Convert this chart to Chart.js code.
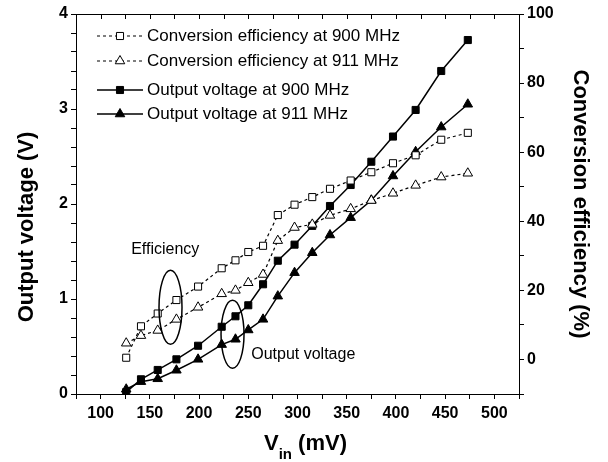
<!DOCTYPE html>
<html>
<head>
<meta charset="utf-8">
<script src="https://cdn.jsdelivr.net/npm/chart.js@4"></script>
<style>
  html, body { margin: 0; padding: 0; background: #fff; }
  #wrap { width: 608px; height: 462px; }
</style>
</head>
<body>
<div id="wrap"><canvas id="rectennaChart" width="608" height="462"></canvas></div>
<script>
// input voltage (mV)
const vin = [126, 141, 158, 177, 199, 223, 237, 250, 265, 280, 297, 315, 333, 354, 375, 397, 420, 446, 473];
// conversion efficiency (%)
const effAt900 = [0.5, 9.6, 13.3, 17.2, 21.1, 26.4, 28.7, 31.1, 32.9, 41.8, 44.8, 47.0, 49.4, 51.8, 54.2, 56.8, 59.1, 63.6, 65.6];
const effAt911 = [4.7, 6.9, 8.4, 11.6, 15.1, 19.0, 20.0, 22.2, 24.6, 34.4, 38.2, 39.1, 41.7, 43.6, 46.0, 48.1, 50.4, 52.8, 53.9];
// output voltage (V)
const voutAt900 = [0.02, 0.155, 0.253, 0.365, 0.508, 0.708, 0.818, 0.934, 1.155, 1.403, 1.572, 1.77, 1.979, 2.2, 2.445, 2.71, 2.99, 3.40, 3.726];
const voutAt911 = [0.05, 0.13, 0.16, 0.25, 0.365, 0.52, 0.576, 0.674, 0.786, 1.03, 1.277, 1.487, 1.674, 1.856, 2.04, 2.295, 2.55, 2.81, 3.05];

const seriesNames = ['Conversion efficiency at 900 MHz', 'Conversion efficiency at 911 MHz',
                     'Output voltage at 900 MHz', 'Output voltage at 911 MHz'];
const xTickLabels = [100, 150, 200, 250, 300, 350, 400, 450, 500];
const yTickLabels = [0, 1, 2, 3, 4];
const y1TickLabels = [0, 20, 40, 60, 80, 100];

const FONT = '"Liberation Sans", Arial, sans-serif';

function pts(xs, ys){
    return xs.map((x, i) => ({x: x, y: ys[i]}));
}

function everyStep(scale, from, to, step){
    const t = [];
    for (let v = from; v <= to + 1e-9; v += step) t.push({value: Math.round(v * 100) / 100});
    scale.ticks = t;
}

// legend rows + ellipses + text annotations + top axis + axis titles
const extras = {
    id: 'extras',
    afterDraw(chart){
        const ctx = chart.ctx;
        const x = chart.scales.x, y = chart.scales.y;
        const area = chart.chartArea;
        ctx.save();
        // top axis line with inward ticks
        ctx.strokeStyle = '#000';
        ctx.lineWidth = 1;
        ctx.beginPath();
        ctx.moveTo(area.left, area.top + 0.5);
        ctx.lineTo(area.right, area.top + 0.5);
        for (let v = 100; v <= 500; v += 25){
            const px = Math.round(x.getPixelForValue(v)) + 0.5;
            ctx.moveTo(px, area.top);
            ctx.lineTo(px, area.top + 5);
        }
        ctx.stroke();

        // legend
        const rows = [36, 61, 90, 114];
        chart.data.datasets.forEach((ds, i) => {
            const ry = rows[i];
            ctx.beginPath();
            ctx.setLineDash(ds.borderDash || []);
            ctx.lineWidth = ds.borderWidth;
            ctx.strokeStyle = '#000';
            ctx.moveTo(97, ry);
            ctx.lineTo(143, ry);
            ctx.stroke();
            ctx.setLineDash([]);
            ctx.lineWidth = 1;
            ctx.fillStyle = ds.pointBackgroundColor;
            ctx.beginPath();
            const r = ds.pointRadius;
            if (ds.pointStyle === 'rect'){
                const s = Math.SQRT1_2 * r;
                ctx.rect(120 - s, ry - s, 2 * s, 2 * s);
            } else {
                ctx.moveTo(120, ry - r);
                ctx.lineTo(120 + r * Math.cos(Math.PI / 6), ry + r / 2);
                ctx.lineTo(120 - r * Math.cos(Math.PI / 6), ry + r / 2);
                ctx.closePath();
            }
            ctx.fill();
            ctx.stroke();
            ctx.fillStyle = '#000';
            ctx.font = '17px ' + FONT;
            ctx.textBaseline = 'middle';
            ctx.textAlign = 'left';
            ctx.fillText(seriesNames[i], 147, ry);
        });

        // ellipses
        ctx.lineWidth = 1.5;
        ctx.beginPath();
        ctx.ellipse(x.getPixelForValue(171), y.getPixelForValue(0.913), 11.5, 37, 0, 0, Math.PI * 2);
        ctx.stroke();
        ctx.beginPath();
        ctx.ellipse(x.getPixelForValue(234), y.getPixelForValue(0.628), 11.5, 34, 0, 0, Math.PI * 2);
        ctx.stroke();

        ctx.font = '16px ' + FONT;
        ctx.textBaseline = 'middle';
        ctx.fillText('Efficiency', x.getPixelForValue(131), y.getPixelForValue(1.516));
        ctx.fillText('Output voltage', x.getPixelForValue(253), y.getPixelForValue(0.41));

        // left axis title, a bit below the middle like the original
        ctx.save();
        ctx.translate(27, 227);
        ctx.rotate(-Math.PI / 2);
        ctx.font = 'bold 22px ' + FONT;
        ctx.textAlign = 'center';
        ctx.textBaseline = 'middle';
        ctx.fillText('Output voltage (V)', 0, 0);
        ctx.restore();

        // x title with subscript
        ctx.textAlign = 'left';
        ctx.textBaseline = 'alphabetic';
        const cx = (area.left + area.right) / 2 + 8;
        ctx.font = 'bold 22px ' + FONT;
        const w1 = ctx.measureText('V').width;
        const w3 = ctx.measureText(' (mV)').width;
        ctx.font = 'bold 15px ' + FONT;
        const w2 = ctx.measureText('in').width;
        let sx = cx - (w1 + w2 + w3) / 2;
        ctx.font = 'bold 22px ' + FONT;
        ctx.fillText('V', sx, 450);
        ctx.fillText(' (mV)', sx + w1 + w2, 450);
        ctx.font = 'bold 15px ' + FONT;
        ctx.fillText('in', sx + w1, 459);
        ctx.restore();
    }
};

const ctx = document.getElementById('rectennaChart').getContext('2d');
new Chart(ctx, {
    type: 'line',
    data: {
        datasets: [{
            label: seriesNames[0],
            data: pts(vin, effAt900),
            yAxisID: 'y1',
            borderColor: '#000', borderWidth: 1.2, borderDash: [3, 3],
            pointStyle: 'rect', pointRadius: 5, pointBorderWidth: 1,
            pointBackgroundColor: '#fff', pointBorderColor: '#000'
        }, {
            label: seriesNames[1],
            data: pts(vin, effAt911),
            yAxisID: 'y1',
            borderColor: '#000', borderWidth: 1.2, borderDash: [3, 3],
            pointStyle: 'triangle', pointRadius: 5.5, pointBorderWidth: 1,
            pointBackgroundColor: '#fff', pointBorderColor: '#000'
        }, {
            label: seriesNames[2],
            data: pts(vin, voutAt900),
            yAxisID: 'y',
            borderColor: '#000', borderWidth: 1.5,
            pointStyle: 'rect', pointRadius: 5, pointBorderWidth: 1,
            pointBackgroundColor: '#000', pointBorderColor: '#000'
        }, {
            label: seriesNames[3],
            data: pts(vin, voutAt911),
            yAxisID: 'y',
            borderColor: '#000', borderWidth: 1.5,
            pointStyle: 'triangle', pointRadius: 5.5, pointBorderWidth: 1,
            pointBackgroundColor: '#000', pointBorderColor: '#000'
        }]
    },
    options: {
        responsive: false,
        animation: false,
        layout: { padding: { top: 14, left: 0, right: 0, bottom: 0 } },
        plugins: { legend: { display: false }, tooltip: { enabled: false } },
        scales: {
            x: {
                type: 'linear', min: 75, max: 525,
                afterBuildTicks: s => everyStep(s, 75, 525, 25),
                afterFit: s => { s.height = 68; },
                grid: { drawOnChartArea: false, tickLength: 5, color: '#000' },
                border: { color: '#000', width: 1 },
                ticks: {
                    color: '#000', padding: 5, maxRotation: 0, autoSkip: false,
                    font: { family: FONT, size: 16, weight: 'bold' },
                    callback: v => xTickLabels.includes(v) ? String(v) : ''
                },
                title: { display: false }
            },
            y: {
                position: 'left', min: 0, max: 4,
                afterBuildTicks: s => everyStep(s, 0, 4, 0.2),
                afterFit: s => { s.width = 76; },
                grid: { drawOnChartArea: false, tickLength: 5, color: '#000' },
                border: { color: '#000', width: 1 },
                ticks: {
                    color: '#000', padding: 3, autoSkip: false,
                    font: { family: FONT, size: 16, weight: 'bold' },
                    callback: v => yTickLabels.includes(v) ? String(v) : ''
                },
                title: { display: false }
            },
            y1: {
                position: 'right', min: -10, max: 100,
                afterBuildTicks: s => everyStep(s, -10, 100, 10),
                afterFit: s => { s.width = 89; },
                grid: { drawOnChartArea: false, tickLength: 5, color: '#000' },
                border: { color: '#000', width: 1 },
                ticks: {
                    color: '#000', padding: 3, autoSkip: false,
                    font: { family: FONT, size: 16, weight: 'bold' },
                    callback: v => y1TickLabels.includes(v) ? String(v) : ''
                },
                title: {
                    display: true, text: 'Conversion efficiency (%)', color: '#000',
                    font: { family: FONT, size: 22, weight: 'bold' }, padding: { top: 15, bottom: 0 }
                }
            }
        }
    },
    plugins: [extras]
});
</script>
</body>
</html>
